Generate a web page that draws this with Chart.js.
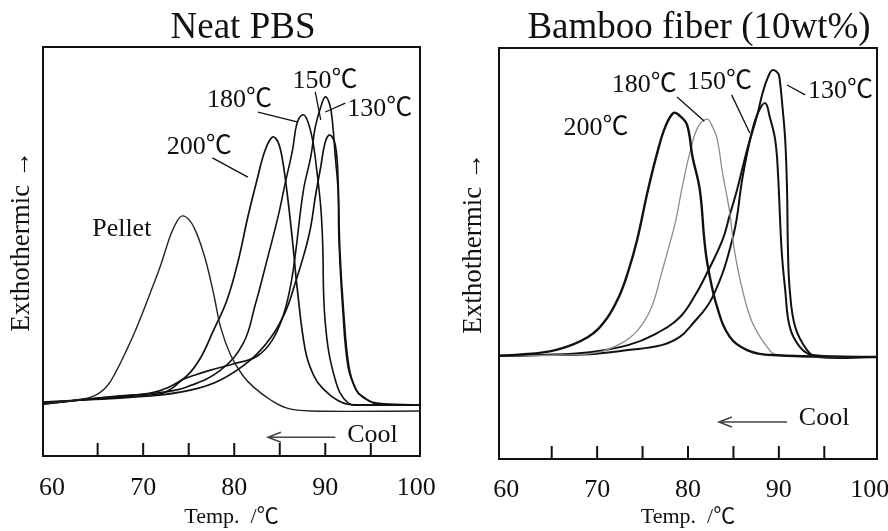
<!DOCTYPE html>
<html>
<head>
<meta charset="utf-8">
<script src="https://cdn.jsdelivr.net/npm/chart.js@4.4.1/dist/chart.umd.min.js"></script>
<style>
  body { margin: 0; background: #fff; width: 888px; height: 531px; position: relative; overflow: hidden; }
  canvas { position: absolute; top: 0; }
  #neat { left: 0; }
  #bamboo { left: 444px; }
</style>
</head>
<body>
<canvas id="neat" width="444" height="531"></canvas>
<canvas id="bamboo" width="446" height="531"></canvas>
<script>
// axis ticks (temperature, degC)
const xTickValues = [60, 65, 70, 75, 80, 85, 90, 95, 100];
const xTickLabels = ['60', '', '70', '', '80', '', '90', '', '100'];
const xTitle = 'Temp.  /℃';
// leading spaces nudge the rotated title a little upward, as in the original
const yTitle = '   Exthothermic →';

// Neat PBS cooling curves: temperature (degC) and heat flow (arb. units)
const neatPelletT  = [59.0, 62.5, 64.5, 66.0, 67.1, 68.2, 69.3, 70.8, 71.9, 73.0, 73.7, 74.3, 75.1, 75.8, 76.4, 77.0, 77.8, 78.5, 79.6, 80.9, 82.1, 84.0, 85.8, 88.4, 100.4];
const neatPelletHF = [12.7, 13.7, 14.6, 17.0, 21.0, 26.0, 31.5, 40.0, 46.5, 54.0, 57.3, 58.7, 57.6, 54.8, 51.2, 46.7, 39.0, 31.5, 24.7, 19.8, 16.9, 13.7, 11.7, 11.0, 11.0];

const neat200T  = [59.0, 65.3, 70.8, 72.6, 74.8, 76.3, 77.7, 79.2, 80.4, 81.5, 82.5, 83.4, 84.2, 84.8, 85.3, 85.9, 86.5, 86.9, 87.8, 88.7, 89.7, 91.9, 93.8, 100.4];
const neat200HF = [12.7, 14.2, 15.4, 16.6, 19.6, 24.0, 30.6, 38.1, 47.4, 58.5, 67.5, 74.8, 78.0, 76.8, 72.4, 62.6, 50.4, 41.3, 25.9, 19.8, 16.6, 13.0, 12.5, 12.5];

const neat180T  = [59.0, 67.5, 71.5, 74.8, 78.5, 81.0, 82.3, 83.6, 84.8, 85.6, 86.4, 86.9, 87.5, 88.0, 88.6, 89.1, 89.5, 89.7, 90.0, 91.1, 92.5, 94.4, 100.4];
const neat180HF = [12.7, 14.7, 15.4, 16.9, 21.0, 27.6, 36.9, 47.9, 58.4, 66.7, 74.8, 81.4, 83.4, 82.2, 77.3, 69.2, 60.9, 52.8, 32.5, 18.6, 13.0, 12.5, 12.5];

const neat150T  = [59.0, 67.5, 71.9, 73.2, 74.3, 75.7, 77.4, 79.9, 82.5, 84.2, 85.4, 86.2, 86.7, 87.6, 88.4, 88.9, 89.5, 90.0, 90.5, 90.8, 91.1, 91.4, 91.5, 91.9, 92.5, 93.4, 94.1, 95.5, 100.4];
const neat150HF = [13.0, 14.4, 15.2, 16.6, 18.6, 19.8, 21.0, 22.5, 24.4, 28.4, 34.5, 41.8, 49.1, 65.0, 73.1, 80.4, 85.3, 87.8, 85.8, 81.4, 73.1, 65.0, 52.8, 36.4, 21.8, 16.1, 14.4, 13.0, 12.5];

const neat130T  = [59.0, 70.8, 75.2, 78.5, 81.8, 84.0, 85.6, 86.7, 87.8, 88.4, 88.9, 89.5, 90.0, 90.5, 91.1, 91.4, 91.6, 92.0, 92.6, 93.4, 94.2, 95.7, 100.4];
const neat130HF = [13.2, 14.7, 16.1, 18.6, 23.5, 28.9, 35.2, 42.3, 50.4, 56.0, 63.3, 70.7, 76.8, 78.5, 76.0, 67.5, 50.4, 35.7, 21.8, 16.1, 14.4, 12.7, 12.5];

// Bamboo fiber (10wt%) cooling curves
const bam200T  = [59.2, 61.0, 65.4, 69.0, 71.0, 72.4, 73.4, 74.4, 75.6, 76.7, 77.5, 78.4, 79.1, 79.9, 80.5, 81.3, 81.8, 82.2, 83.2, 84.6, 86.5, 89.3, 100.8];
const bam200HF = [25.1, 25.3, 26.5, 29.7, 34.0, 39.5, 45.5, 53.3, 65.5, 75.2, 80.8, 84.2, 83.5, 81.3, 73.5, 65.5, 53.3, 46.7, 37.0, 29.7, 26.5, 25.3, 24.8];

const bam180T  = [59.2, 65.9, 69.8, 72.7, 74.5, 76.0, 77.1, 77.8, 78.6, 79.3, 80.2, 81.1, 82.1, 82.6, 83.2, 83.8, 84.6, 85.1, 86.0, 87.1, 88.7, 89.8, 100.8];
const bam180HF = [25.1, 25.3, 25.8, 28.2, 31.4, 37.0, 45.3, 50.9, 57.5, 65.5, 74.5, 80.8, 82.7, 81.3, 77.9, 69.6, 59.9, 50.9, 41.1, 33.1, 27.3, 25.3, 24.8];

const bam150T  = [59.2, 63.7, 69.2, 73.4, 77.1, 79.1, 80.2, 82.7, 85.0, 86.0, 87.0, 87.7, 88.5, 89.0, 89.6, 89.9, 90.3, 90.7, 91.2, 92.3, 93.7, 100.8];
const bam150HF = [25.1, 25.3, 25.5, 26.5, 27.7, 29.7, 32.1, 39.4, 54.5, 68.5, 79.3, 84.2, 86.6, 83.2, 77.6, 69.6, 50.9, 41.1, 32.1, 27.3, 25.3, 24.8];

const bam130T  = [59.2, 63.7, 69.2, 73.4, 76.4, 79.1, 80.8, 82.1, 83.8, 84.6, 85.4, 86.5, 87.6, 88.2, 88.8, 89.3, 89.9, 90.1, 90.4, 90.7, 90.9, 91.0, 91.2, 91.8, 93.1, 94.2, 100.8];
const bam130HF = [25.1, 25.3, 26.0, 27.7, 30.4, 34.5, 39.9, 45.3, 53.3, 59.4, 65.5, 75.2, 83.5, 89.0, 92.9, 94.6, 93.9, 92.2, 85.6, 77.6, 65.5, 50.9, 41.1, 32.1, 26.5, 24.8, 24.8];

// curve labels, placed in data units (t = left edge of text, v = middle)
const neatLabels = [
  { text: 'Pellet', t: 64.4, v: 55.5 },
  { text: '200℃', t: 72.6, v: 75.6, from: [77.6, 72.9], to: [81.5, 68.2] },
  { text: '180℃', t: 77.0, v: 87.0, from: [82.6, 84.1], to: [86.9, 81.7] },
  { text: '150℃', t: 86.4, v: 91.7, from: [88.9, 89.0], to: [89.5, 82.2] },
  { text: '130℃', t: 92.4, v: 84.8, from: [92.2, 86.3], to: [90.0, 84.1] }
];
const bambooLabels = [
  { text: '200℃', t: 66.3, v: 80.5 },
  { text: '180℃', t: 71.6, v: 91.0, from: [78.8, 88.1], to: [81.8, 82.2] },
  { text: '150℃', t: 79.9, v: 91.7, from: [84.8, 88.6], to: [86.8, 79.3] },
  { text: '130℃', t: 93.2, v: 89.5, from: [90.9, 91.0], to: [92.9, 88.6] }
];

const SERIF = '"Liberation Serif", "Noto Sans CJK JP", serif';
Chart.defaults.font.family = SERIF;
Chart.defaults.color = '#111';

// frame, inward ticks, panel title, curve labels and the "Cool" arrow
const decor = {
  id: 'decor',
  afterDraw(chart, args, o) {
    const { ctx, chartArea: a, scales: { x, y } } = chart;
    ctx.save();
    ctx.strokeStyle = '#111';
    ctx.fillStyle = '#111';

    ctx.font = '37px ' + SERIF;
    ctx.textAlign = 'center';
    ctx.textBaseline = 'alphabetic';
    ctx.fillText(o.title, (a.left + a.right) / 2 + o.titleShift, 38);

    ctx.lineWidth = 2;
    ctx.strokeRect(a.left, a.top, a.right - a.left, a.bottom - a.top);
    xTickValues.slice(1, -1).forEach(v => {
      const px = x.getPixelForValue(v);
      ctx.beginPath();
      ctx.moveTo(px, a.bottom);
      ctx.lineTo(px, a.bottom - 13);
      ctx.stroke();
    });

    ctx.font = '26px ' + SERIF;
    ctx.textAlign = 'left';
    ctx.textBaseline = 'middle';
    ctx.lineWidth = 1.3;
    o.labels.forEach(l => {
      ctx.fillText(l.text, x.getPixelForValue(l.t), y.getPixelForValue(l.v));
      if (l.from) {
        ctx.beginPath();
        ctx.moveTo(x.getPixelForValue(l.from[0]), y.getPixelForValue(l.from[1]));
        ctx.lineTo(x.getPixelForValue(l.to[0]), y.getPixelForValue(l.to[1]));
        ctx.stroke();
      }
    });

    // cooling direction
    const c = o.cool;
    const x0 = x.getPixelForValue(c.tail), x1 = x.getPixelForValue(c.head), py = y.getPixelForValue(c.v);
    ctx.strokeStyle = '#444';
    ctx.lineWidth = 1.5;
    ctx.beginPath();
    ctx.moveTo(x0, py); ctx.lineTo(x1, py);
    ctx.moveTo(x1 + 13, py - 5); ctx.lineTo(x1, py); ctx.lineTo(x1 + 13, py + 5);
    ctx.stroke();
    ctx.fillText('Cool', x.getPixelForValue(c.textT), y.getPixelForValue(c.textV));
    ctx.restore();
  }
};

function makePanel(canvasId, p) {
  const ctx = document.getElementById(canvasId).getContext('2d');
  return new Chart(ctx, {
    type: 'line',
    data: {
      datasets: p.series.map(s => ({
        label: s.name,
        data: s.t.map((t, i) => ({ x: t, y: s.hf[i] })),
        borderColor: s.color,
        borderWidth: s.width,
        pointRadius: 0,
        fill: false,
        tension: 0.4
      }))
    },
    options: {
      responsive: false,
      animation: false,
      events: [],
      layout: { padding: { top: p.top, right: p.right, bottom: 0, left: 0 } },
      plugins: {
        legend: { display: false },
        tooltip: { enabled: false },
        decor: p.decor
      },
      scales: {
        x: {
          type: 'linear', min: p.xMin, max: p.xMax,
          afterBuildTicks: s => { s.ticks = xTickValues.map(v => ({ value: v })); },
          afterFit: s => { s.height = p.xHeight; },
          grid: { display: false, drawTicks: true, tickLength: p.tickPad },
          border: { display: false },
          ticks: {
            padding: 0, autoSkip: false, maxRotation: 0,
            font: { size: 26 }, color: '#111',
            callback: v => xTickLabels[xTickValues.indexOf(v)]
          },
          title: { display: true, text: xTitle, font: { size: 22 }, color: '#111', padding: { top: 0, bottom: 1 } }
        },
        y: {
          min: 0, max: 100,
          afterFit: s => { s.width = p.yWidth; },
          grid: { display: false },
          border: { display: false },
          ticks: { display: false },
          title: { display: true, text: yTitle, font: { size: 27 }, color: '#111', padding: { top: p.yTitlePad, bottom: 0 } }
        }
      }
    },
    plugins: [decor]
  });
}

makePanel('neat', {
  xMin: 59.0, xMax: 100.4, top: 47, right: 24, xHeight: 75, yWidth: 43, tickPad: 17, yTitlePad: 6,
  series: [
    { name: 'Pellet', t: neatPelletT, hf: neatPelletHF, color: '#222', width: 1.4 },
    { name: '200℃', t: neat200T, hf: neat200HF, color: '#111', width: 1.7 },
    { name: '180℃', t: neat180T, hf: neat180HF, color: '#111', width: 1.6 },
    { name: '150℃', t: neat150T, hf: neat150HF, color: '#111', width: 1.6 },
    { name: '130℃', t: neat130T, hf: neat130HF, color: '#111', width: 1.7 }
  ],
  decor: {
    title: 'Neat PBS', titleShift: 11.5, labels: neatLabels,
    cool: { tail: 91.1, head: 83.7, v: 4.6, textT: 92.4, textV: 5.1 }
  }
});

makePanel('bamboo', {
  xMin: 59.2, xMax: 100.8, top: 48, right: 13, xHeight: 72, yWidth: 55, tickPad: 16, yTitlePad: 14,
  series: [
    { name: '200℃', t: bam200T, hf: bam200HF, color: '#111', width: 2.4 },
    { name: '180℃', t: bam180T, hf: bam180HF, color: '#8c8c8c', width: 1.3 },
    { name: '150℃', t: bam150T, hf: bam150HF, color: '#111', width: 2.0 },
    { name: '130℃', t: bam130T, hf: bam130HF, color: '#111', width: 2.0 }
  ],
  decor: {
    title: 'Bamboo fiber (10wt%)', titleShift: 11, labels: bambooLabels,
    cool: { tail: 90.9, head: 83.4, v: 9.0, textT: 92.2, textV: 10.0 }
  }
});
</script>
</body>
</html>
